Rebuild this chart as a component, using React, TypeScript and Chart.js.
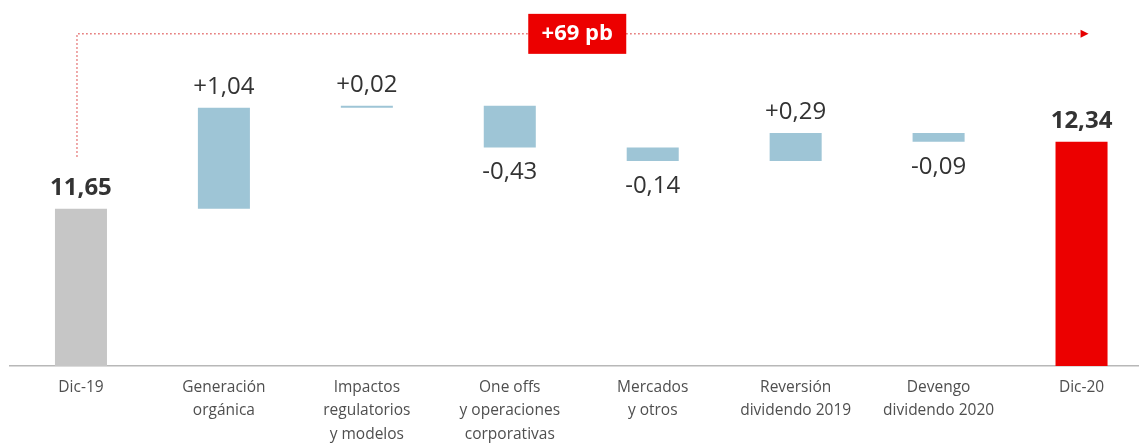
import React, { useEffect, useRef } from "react";
import { Chart, registerables } from "chart.js";

Chart.register(...registerables);

const categories: string[][] = [
  ["Dic-19"],
  ["Generación", "orgánica"],
  ["Impactos", "regulatorios", "y modelos"],
  ["One offs", "y operaciones", "corporativas"],
  ["Mercados", "y otros"],
  ["Reversión", "dividendo 2019"],
  ["Devengo", "dividendo 2020"],
  ["Dic-20"],
];
const startValue = 11.65;
const deltas = [1.04, 0.02, -0.43, -0.14, 0.29, -0.09];
const endValue = 12.34;
const changeLabel = "+69 pb";

const Y_MIN = 10.03;
const Y_MAX = 13.5;

const GRAY = "#c6c6c6";
const BLUE = "#9ec5d6";
const RED = "#ec0000";
const FONT = "'Open Sans', sans-serif";

function fmt(v: number, sign: boolean) {
  const s = Math.abs(v).toFixed(2).replace(".", ",");
  if (!sign) return s;
  return (v >= 0 ? "+" : "-") + s;
}

export default function App() {
  const ref = useRef<HTMLCanvasElement | null>(null);

  useEffect(() => {
    document.body.style.margin = "0";
    document.body.style.overflow = "hidden";
    document.documentElement.style.overflow = "hidden";
    const canvas = ref.current;
    if (!canvas) return;

    const ranges: [number, number][] = [];
    const colors: string[] = [];
    ranges.push([Y_MIN, startValue]);
    colors.push(GRAY);
    let cur = startValue;
    deltas.forEach((d) => {
      const next = Math.round((cur + d) * 100) / 100;
      ranges.push([Math.min(cur, next), Math.max(cur, next)]);
      colors.push(BLUE);
      cur = next;
    });
    ranges.push([Y_MIN, endValue]);
    colors.push(RED);

    const labelTexts: { text: string; up: boolean; bold: boolean }[] = [];
    labelTexts.push({ text: fmt(startValue, false), up: true, bold: true });
    deltas.forEach((d) => labelTexts.push({ text: fmt(d, true), up: d >= 0, bold: false }));
    labelTexts.push({ text: fmt(endValue, false), up: true, bold: true });

    const labelPlugin = {
      id: "wfLabels",
      afterDatasetsDraw(chart: any) {
        const ctx = chart.ctx;
        const meta = chart.getDatasetMeta(0);
        const ys = chart.scales.y;
        ctx.save();
        ctx.textAlign = "center";
        ctx.textBaseline = "middle";
        meta.data.forEach((el: any, i: number) => {
          const lt = labelTexts[i];
          const r = ranges[i];
          ctx.font = (lt.bold ? "bold " : "") + "24px " + FONT;
          ctx.fillStyle = "#333333";
          if (lt.up) {
            const y = ys.getPixelForValue(r[1]);
            ctx.fillText(lt.text, el.x, y - 21);
          } else {
            const y = ys.getPixelForValue(r[0]);
            ctx.fillText(lt.text, el.x, y + 25);
          }
        });

        const xs = chart.scales.x;
        const x0 = xs.getPixelForValue(0) - 4;
        const x1 = xs.getPixelForValue(categories.length - 1) + 4;
        const yTop = ys.getPixelForValue(13.45);
        const yStartLabel = ys.getPixelForValue(startValue);
        const yBottom = yStartLabel - 52;
        ctx.strokeStyle = "#e36a6a";
        ctx.lineWidth = 1.5;
        ctx.setLineDash([1.5, 2.5]);
        ctx.beginPath();
        ctx.moveTo(x0, yBottom);
        ctx.lineTo(x0, yTop);
        ctx.lineTo(x1 - 4, yTop);
        ctx.stroke();
        ctx.setLineDash([]);
        ctx.fillStyle = "#e60000";
        ctx.beginPath();
        ctx.moveTo(x1 + 3, yTop);
        ctx.lineTo(x1 - 5, yTop - 4);
        ctx.lineTo(x1 - 5, yTop + 4);
        ctx.closePath();
        ctx.fill();

        const bx = (xs.getPixelForValue(3) + xs.getPixelForValue(4)) / 2 - 4;
        const bw = 98;
        const bh = 40;
        ctx.fillStyle = RED;
        ctx.fillRect(bx - bw / 2, yTop - bh / 2, bw, bh);
        ctx.fillStyle = "#ffffff";
        ctx.font = "bold 22px " + FONT;
        ctx.fillText(changeLabel, bx, yTop);
        ctx.restore();
      },
    };

    const chart = new Chart(canvas, {
      type: "bar",
      data: {
        labels: categories,
        datasets: [
          {
            data: ranges as any,
            backgroundColor: colors,
            borderWidth: 0,
            borderSkipped: false,
            barPercentage: 0.364,
            categoryPercentage: 1,
            grouped: false,
          },
        ],
      },
      options: {
        responsive: false,
        animation: false,
        devicePixelRatio: 1,
        layout: { padding: { top: 29, left: 9.5, right: 7, bottom: 0 } },
        plugins: {
          legend: { display: false },
          tooltip: { enabled: false },
          title: { display: false },
        },
        scales: {
          x: {
            offset: true,
            grid: { display: false, drawTicks: false },
            border: { display: true, color: "#b8b8b8", width: 1.5 },
            ticks: {
              color: "#4f4f4f",
              font: { family: FONT, size: 15.5, lineHeight: 1.5 },
              padding: 10,
              maxRotation: 0,
              autoSkip: false,
            },
            afterFit(scale: any) {
              scale.height = 94;
            },
          },
          y: {
            display: false,
            min: Y_MIN,
            max: Y_MAX,
          },
        },
      },
      plugins: [labelPlugin],
    });
    return () => chart.destroy();
  }, []);

  return (
    <div style={{ width: 1160, height: 460, overflow: "hidden", background: "#ffffff" }}>
      <canvas ref={ref} width={1160} height={460} style={{ display: "block" }} />
    </div>
  );
}
